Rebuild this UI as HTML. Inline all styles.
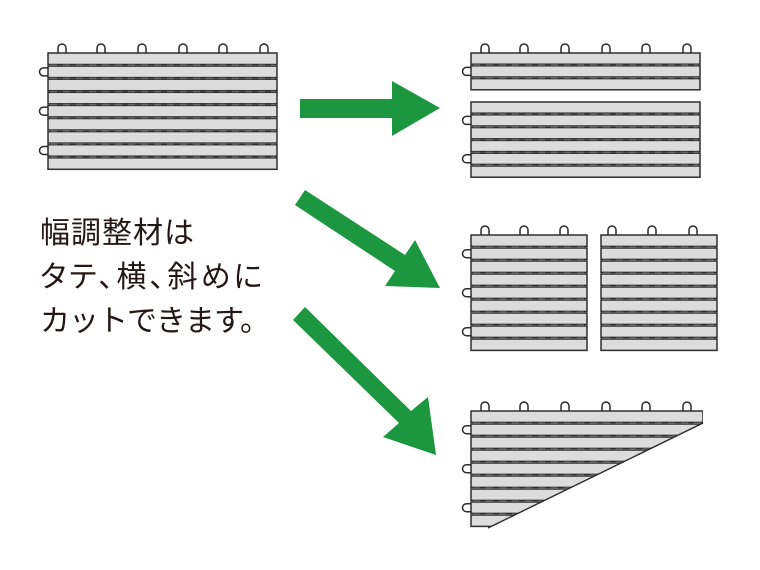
<!DOCTYPE html>
<html><head><meta charset="utf-8"><style>
html,body{margin:0;padding:0;background:#fff;width:760px;height:570px;overflow:hidden}
.t{position:absolute;left:40px;font-family:"Liberation Sans","Noto Sans CJK JP",sans-serif;font-size:30px;color:#231815;line-height:1;white-space:nowrap}
</style></head><body>
<svg id="s" width="760" height="570" viewBox="0 0 760 570" style="position:absolute;left:0;top:0">
<defs><clipPath id="cut"><polygon points="420,395 703,395 703,423 488,528 420,540"/></clipPath></defs>
<g fill="#1d9640">
<polygon points="300,99 392,99 392,81 440,108 392,136 392,118 300,118"/>
<polygon points="305,190 405,255 415,240 440,288 385,286 395,271 295,205"/>
<polygon points="305,307 411,411 428,397 436,455 383,437 399,423 293,320"/>
</g>
<g id="tiles"></g>
</svg>
<div class="t" style="top:219px;letter-spacing:1px">幅調整材は</div>
<div class="t" style="top:263px;font-feature-settings:'palt';letter-spacing:3px">タテ、横、斜めに</div>
<div class="t" style="top:307px;letter-spacing:-1px">カットできます。</div>
<script>
var g=document.getElementById('tiles'),out='';
function tile(x,y,w,n,pitch,tops,lefts,clip){
 var s='',h=pitch-1.6;
 tops.forEach(function(lx){s+='<path d="M'+(lx-4)+','+y+' V'+(y-5)+' a4,4 0 0 1 8,0 V'+y+'" fill="#fff" stroke="#2a2a2a" stroke-width="1.5"/>';});
 lefts.forEach(function(i){var cy=y+i*pitch+h/2;s+='<path d="M'+x+','+(cy-4)+' H'+(x-4.5)+' a4,4 0 0 0 0,8 H'+x+'" fill="#fff" stroke="#2a2a2a" stroke-width="1.5"/>';});
 for(var i=0;i<n;i++){var yy=y+i*pitch;
  s+='<rect x="'+x+'" y="'+yy+'" width="'+w+'" height="'+h+'" fill="#dcdcdc" stroke="#2e2e2e" stroke-width="1.5"/>';
  if(i>0)s+='<line x1="'+(x+2)+'" y1="'+(yy-0.8)+'" x2="'+(x+w-2)+'" y2="'+(yy-0.8)+'" stroke="#666" stroke-width="1.6" stroke-dasharray="7,6"/>';
 }
 if(clip)s='<g clip-path="url(#cut)">'+s+'</g>';
 out+=s;
}
var T=[14,53,94,135,175,216];
tile(48,53,229,9,13.1,T.map(function(o){return 48+o}),[1,4,7]);
tile(471,53,229,3,12.8,T.map(function(o){return 471+o}),[1]);
tile(471,102,229,6,12.8,[],[1,4]);
tile(471,235,116,9,13.0,[485,524,564],[1,4,7]);
tile(601,235,116,9,13.0,[612,652,693],[]);
tile(471,411,232,9,13.0,T.map(function(o){return 471+o}),[1,4,7],true);
out+='<line x1="703" y1="423" x2="488" y2="528" stroke="#2a2a2a" stroke-width="1.4"/>';
g.innerHTML=out;
</script>
</body></html>
